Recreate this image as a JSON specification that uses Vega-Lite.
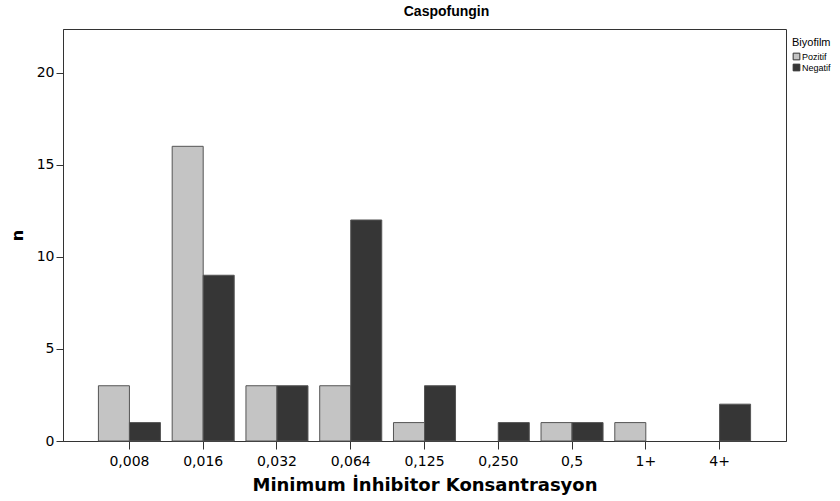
{
  "$schema": "https://vega.github.io/schema/vega-lite/v6.json",
  "width": 723,
  "height": 412,
  "autosize": {"type": "none"},
  "padding": {"left": 63, "top": 29, "right": 54, "bottom": 60},
  "background": "white",
  "config": {
    "font": "Liberation Sans",
    "view": {"stroke": "#333333", "strokeWidth": 1}
  },
  "title": {
    "text": "Caspofungin",
    "anchor": "middle",
    "font": "Liberation Sans",
    "fontSize": 14,
    "fontWeight": "bold",
    "color": "black",
    "offset": 10,
    "dx": 22
  },
  "data": {
    "values": [
      {"mic": "0,008", "Biyofilm": "Pozitif", "n": 3},
      {"mic": "0,008", "Biyofilm": "Negatif", "n": 1},
      {"mic": "0,016", "Biyofilm": "Pozitif", "n": 16},
      {"mic": "0,016", "Biyofilm": "Negatif", "n": 9},
      {"mic": "0,032", "Biyofilm": "Pozitif", "n": 3},
      {"mic": "0,032", "Biyofilm": "Negatif", "n": 3},
      {"mic": "0,064", "Biyofilm": "Pozitif", "n": 3},
      {"mic": "0,064", "Biyofilm": "Negatif", "n": 12},
      {"mic": "0,125", "Biyofilm": "Pozitif", "n": 1},
      {"mic": "0,125", "Biyofilm": "Negatif", "n": 3},
      {"mic": "0,250", "Biyofilm": "Pozitif", "n": 0},
      {"mic": "0,250", "Biyofilm": "Negatif", "n": 1},
      {"mic": "0,5", "Biyofilm": "Pozitif", "n": 1},
      {"mic": "0,5", "Biyofilm": "Negatif", "n": 1},
      {"mic": "1+", "Biyofilm": "Pozitif", "n": 1},
      {"mic": "1+", "Biyofilm": "Negatif", "n": 0},
      {"mic": "4+", "Biyofilm": "Pozitif", "n": 0},
      {"mic": "4+", "Biyofilm": "Negatif", "n": 2}
    ]
  },
  "transform": [{"filter": "datum.n > 0"}],
  "mark": {"type": "bar", "stroke": "#555555", "strokeWidth": 1},
  "encoding": {
    "x": {
      "field": "mic",
      "type": "nominal",
      "sort": ["0,008", "0,016", "0,032", "0,064", "0,125", "0,250", "0,5", "1+", "4+"],
      "scale": {"domain": ["0,008", "0,016", "0,032", "0,064", "0,125", "0,250", "0,5", "1+", "4+"], "paddingInner": 0.159, "paddingOuter": 0.48},
      "axis": {
        "title": "Minimum İnhibitor Konsantrasyon",
        "titleFont": "DejaVu Sans",
        "titleFontSize": 18,
        "titleFontWeight": "bold",
        "titleColor": "black",
        "titlePadding": 8,
        "labelAngle": 0,
        "labelFont": "DejaVu Sans",
        "labelFontSize": 14,
        "labelColor": "black",
        "labelPadding": 5,
        "tickSize": 8,
        "tickColor": "#333333",
        "domainColor": "#333333",
        "grid": false
      }
    },
    "xOffset": {
      "field": "Biyofilm",
      "type": "nominal",
      "sort": ["Pozitif", "Negatif"],
      "scale": {"domain": ["Pozitif", "Negatif"], "paddingInner": 0, "paddingOuter": 0}
    },
    "y": {
      "field": "n",
      "type": "quantitative",
      "scale": {"domain": [0, 22.37], "nice": false},
      "axis": {
        "title": "n",
        "titleFont": "DejaVu Sans",
        "titleFontSize": 16,
        "titleFontWeight": "bold",
        "titleColor": "black",
        "titleBaseline": "middle",
        "titleX": -46,
        "titleY": 206,
        "values": [0, 5, 10, 15, 20],
        "labelFont": "DejaVu Sans",
        "labelFontSize": 14,
        "labelColor": "black",
        "labelPadding": 2,
        "tickSize": 7,
        "tickColor": "#333333",
        "domainColor": "#333333",
        "grid": false
      }
    },
    "color": {
      "field": "Biyofilm",
      "type": "nominal",
      "sort": ["Pozitif", "Negatif"],
      "scale": {"domain": ["Pozitif", "Negatif"], "range": ["#c4c4c4", "#363636"]},
      "legend": {
        "orient": "none",
        "legendX": 729,
        "legendY": 8,
        "title": "Biyofilm",
        "titleFontSize": 11,
        "titleFontWeight": "normal",
        "titleColor": "black",
        "titlePadding": 4,
        "labelFontSize": 9,
        "labelColor": "black",
        "labelOffset": 1,
        "symbolType": "square",
        "symbolSize": 45,
        "symbolStrokeColor": "#333333",
        "symbolStrokeWidth": 1,
        "rowPadding": 0,
        "padding": 0
      }
    }
  }
}
